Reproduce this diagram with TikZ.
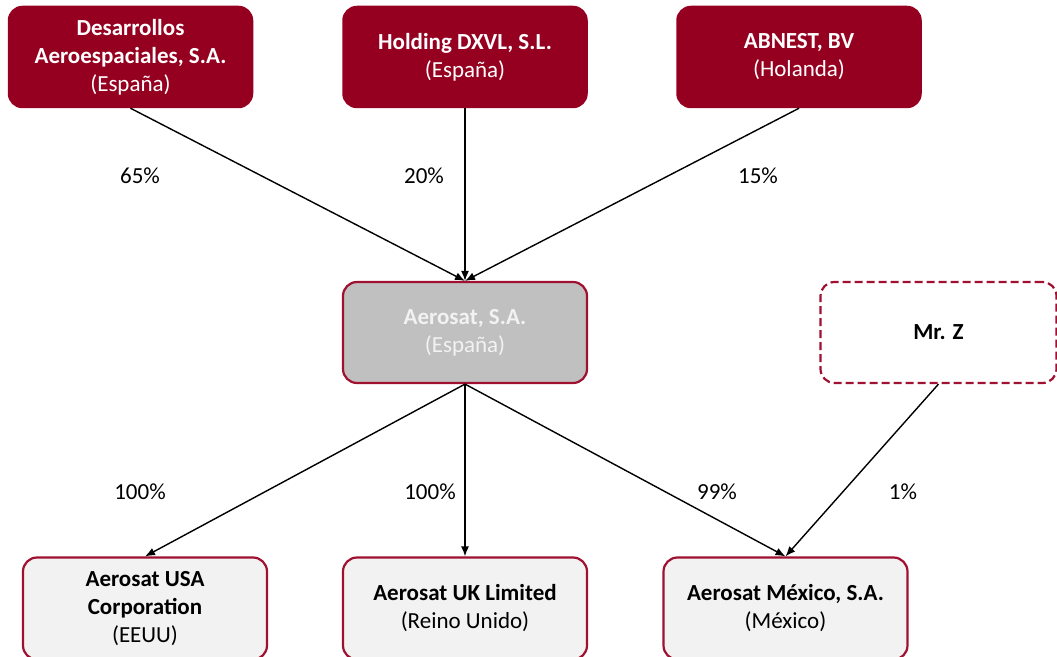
\documentclass[tikz,border=0pt]{standalone}
\usepackage{fontspec}
\setmainfont{Carlito}
\usepackage{xcolor}
\usetikzlibrary{arrows.meta}

\definecolor{burdeos}{RGB}{150,0,32}
\definecolor{borde}{RGB}{160,16,48}
\definecolor{grismedio}{RGB}{192,192,192}
\definecolor{grisclaro}{RGB}{242,242,242}

\begin{document}
\begin{tikzpicture}[x=1pt,y=1pt,>={Latex[length=10pt,width=8pt]},
                    font=\fontsize{23}{28}\selectfont,
                    topbox/.style={draw=burdeos, fill=burdeos, text=white, line width=1.5pt,
                                   rounded corners=14pt, minimum width=244pt, minimum height=101pt,
                                   align=center, font=\fontsize{23}{28}\selectfont\bfseries},
                    midbox/.style={topbox, draw=borde, fill=grismedio, text=grisclaro, line width=2.2pt},
                    subbox/.style={topbox, draw=borde, fill=grisclaro, text=black, line width=2.2pt},
                    ghostbox/.style={subbox, fill=white, dashed, dash pattern=on 8pt off 4pt},
                    pct/.style={inner sep=2pt, font=\fontsize{23}{27}\selectfont},
                    link/.style={black, line width=1.4pt, ->}]

  \useasboundingbox (0,0) rectangle (1057,656);
  \clip (0,0) rectangle (1057,656);

  % accionistas
  \node[topbox] (desarrollos) at (130.5,599) {Desarrollos\\Aeroespaciales, S.A.\\{\mdseries (España)}};
  \node[topbox] (holding)     at (465,599)   {Holding DXVL, S.L.\\{\mdseries (España)}};
  \node[topbox] (abnest)      at (799,599)   {ABNEST, BV\\{\mdseries (Holanda)}};

  % sociedad central
  \node[midbox] (aerosat) at (465,323.5) {Aerosat, S.A.\\{\mdseries (España)}};
  \node[ghostbox, minimum width=236pt] (mrz) at (938.5,323.5) {Mr. Z};

  % filiales
  \node[subbox, minimum height=102pt] (usa) at (145,47.5)   {Aerosat USA\\Corporation\\{\mdseries (EEUU)}};
  \node[subbox, minimum height=102pt] (uk)  at (465,47.5)   {Aerosat UK Limited\\{\mdseries (Reino Unido)}};
  \node[subbox, minimum height=102pt] (mex) at (785.5,47.5) {Aerosat México, S.A.\\{\mdseries (México)}};

  \draw[link] (desarrollos.south) -- (aerosat.north);
  \draw[link] (holding.south) -- (aerosat.north);
  \draw[link] (abnest.south) -- (aerosat.north);
  \draw[link] (aerosat.south) -- (usa.north);
  \draw[link] (aerosat.south) -- (uk.north);
  \draw[link] (aerosat.south) -- (mex.north);
  \draw[link] (mrz.south) -- (mex.north);

  \node[pct] (p65)  at (140,480) {65\%};
  \node[pct] (p20)  at (424,480) {20\%};
  \node[pct] (p15)  at (758,480) {15\%};
  \node[pct] (p100a) at (140,164) {100\%};
  \node[pct] (p100b) at (430,164) {100\%};
  \node[pct] (p99)  at (717,164) {99\%};
  \node[pct] (p1)   at (903,164) {1\%};
\end{tikzpicture}
\end{document}
